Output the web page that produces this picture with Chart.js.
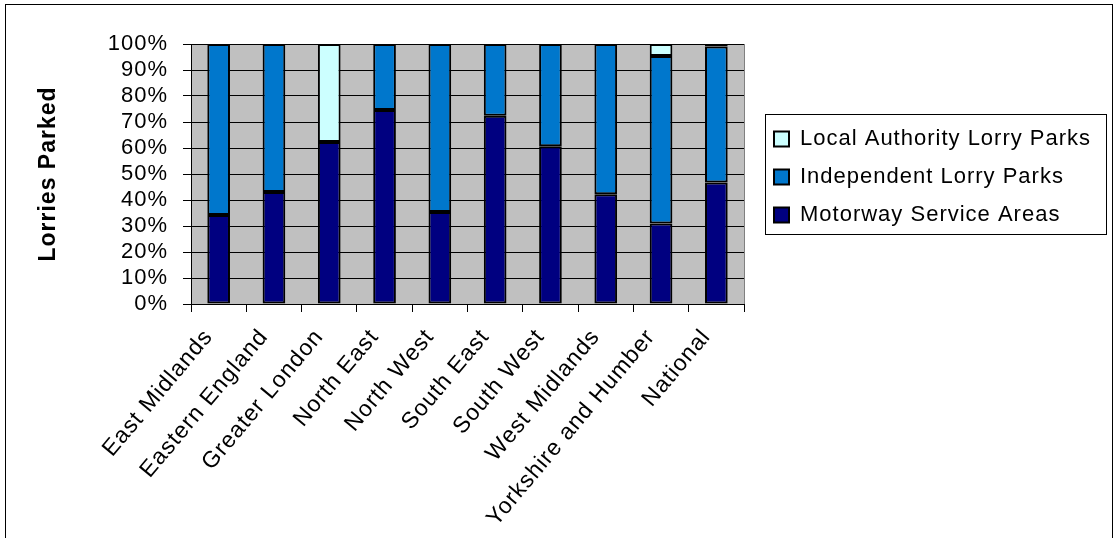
<!DOCTYPE html>
<html>
<head>
<meta charset="utf-8">
<title>Lorries Parked by Region</title>
<script src="https://cdn.jsdelivr.net/npm/chart.js@4/dist/chart.umd.min.js"></script>
<style>
  html, body { margin: 0; padding: 0; background: #fff; }
  canvas { display: block; }
</style>
</head>
<body>
<canvas id="lorryChart" width="1115" height="538"></canvas>
<script>
// Regions and share of lorries parked (%) by site type
const regions = [
  "East Midlands", "Eastern England", "Greater London", "North East", "North West",
  "South East", "South West", "West Midlands", "Yorkshire and Humber", "National"
];
const motorwayServiceAreas = [34.2, 43.1, 62.3, 74.6, 35.4, 72.4, 60.7, 42.2, 31.0, 46.7];
const independentParks     = [65.8, 56.9, 0,    25.4, 64.6, 27.6, 39.3, 57.8, 64.4, 52.3];
const localAuthorityParks  = [0,    0,    37.7, 0,    0,    0,    0,    0,    4.6,  1.0];
const yTicks = [0, 10, 20, 30, 40, 50, 60, 70, 80, 90, 100];

const FONT = "'Liberation Sans', Arial, sans-serif";
const LEGEND_W = 200; // legend layout slot; the box itself is drawn wider

// Page frame, grey plot background and the boxed legend
const chartFrame = {
  id: "chartFrame",
  beforeLayout(chart) {
    chart.ctx.letterSpacing = "1px";
  },
  afterLayout(chart) {
    // move the legend a little off the plot and give its text room
    const lg = chart.legend;
    lg.left = chart.chartArea.right + 14;
    lg.right = lg.left + 350;
    lg.width = 350;
    lg.top += 3; lg.bottom += 3;
  },
  beforeDraw(chart) {
    const { ctx, chartArea: a } = chart;
    ctx.save();
    ctx.letterSpacing = "1px";
    ctx.fillStyle = "#fff";
    ctx.fillRect(0, 0, chart.width, chart.height);
    ctx.strokeStyle = "#000";
    ctx.lineWidth = 1;
    ctx.strokeRect(5.5, 4.5, 1107, 540);
    ctx.fillStyle = "#c0c0c0";
    ctx.fillRect(a.left, a.top, a.right - a.left, a.bottom - a.top);
    ctx.strokeStyle = "#808080";
    ctx.strokeRect(a.left + 0.5, a.top + 0.5, a.right - a.left, a.bottom - a.top);
    ctx.restore();
  },
  afterDraw(chart) {
    const { ctx, chartArea: a } = chart;
    const lg = chart.legend;
    const mid = (a.top + a.bottom) / 2;
    ctx.save();
    ctx.strokeStyle = "#000";
    ctx.lineWidth = 1;
    ctx.strokeRect(Math.round(lg.left + 7) + 0.5, Math.round(mid - 60) + 0.5, 341, 120);
    ctx.restore();
  }
};

new Chart(document.getElementById("lorryChart"), {
  type: "bar",
  data: {
    labels: regions,
    datasets: [
      {
        label: "Motorway Service Areas",
        data: motorwayServiceAreas,
        backgroundColor: "#000080",
        borderColor: "#000",
        borderWidth: 2,
        borderSkipped: false
      },
      {
        label: "Independent Lorry Parks",
        data: independentParks,
        backgroundColor: "#0077cc",
        borderColor: "#000",
        borderWidth: 2,
        borderSkipped: false
      },
      {
        label: "Local Authority Lorry Parks",
        data: localAuthorityParks,
        backgroundColor: "#ccffff",
        borderColor: "#000",
        borderWidth: 2,
        borderSkipped: false
      }
    ]
  },
  options: {
    responsive: false,
    animation: false,
    layout: { padding: { left: 10, top: 44, right: 1115 - 744 - LEGEND_W, bottom: 0 } },
    datasets: {
      bar: { barPercentage: 0.41, categoryPercentage: 1.0 }
    },
    plugins: {
      tooltip: { enabled: false },
      legend: {
        position: "right",
        align: "center",
        fullSize: false,
        reverse: true,
        maxWidth: LEGEND_W,
        labels: {
          color: "#000",
          font: { family: FONT, size: 22 },
          boxWidth: 15,
          boxHeight: 15,
          padding: 16
        }
      }
    },
    scales: {
      x: {
        stacked: true,
        offset: true,
        afterFit(scale) { scale.height = 234; },
        grid: {
          display: true,
          offset: true,
          drawOnChartArea: false,
          drawTicks: true,
          tickLength: 8,
          color: "#000"
        },
        border: { display: true, color: "#000", width: 1 },
        ticks: {
          color: "#000",
          font: { family: FONT, size: 23 },
          minRotation: 50,
          maxRotation: 50,
          autoSkip: false,
          padding: 12,
          labelOffset: -10
        }
      },
      y: {
        stacked: true,
        min: 0,
        max: 100,
        afterFit(scale) { scale.width = 181; },
        afterBuildTicks(scale) { scale.ticks = yTicks.map(v => ({ value: v })); },
        grid: {
          color: "#000",
          lineWidth: 1,
          drawTicks: true,
          tickLength: 8
        },
        border: { display: true, color: "#000", width: 1 },
        ticks: {
          color: "#000",
          font: { family: FONT, size: 22 },
          autoSkip: false,
          padding: 15,
          callback: v => v + "%"
        },
        title: {
          display: true,
          text: "Lorries Parked",
          color: "#000",
          font: { family: FONT, size: 23, weight: "bold" },
          padding: { top: 25, bottom: 0 }
        }
      }
    }
  },
  plugins: [chartFrame]
});
</script>
</body>
</html>
